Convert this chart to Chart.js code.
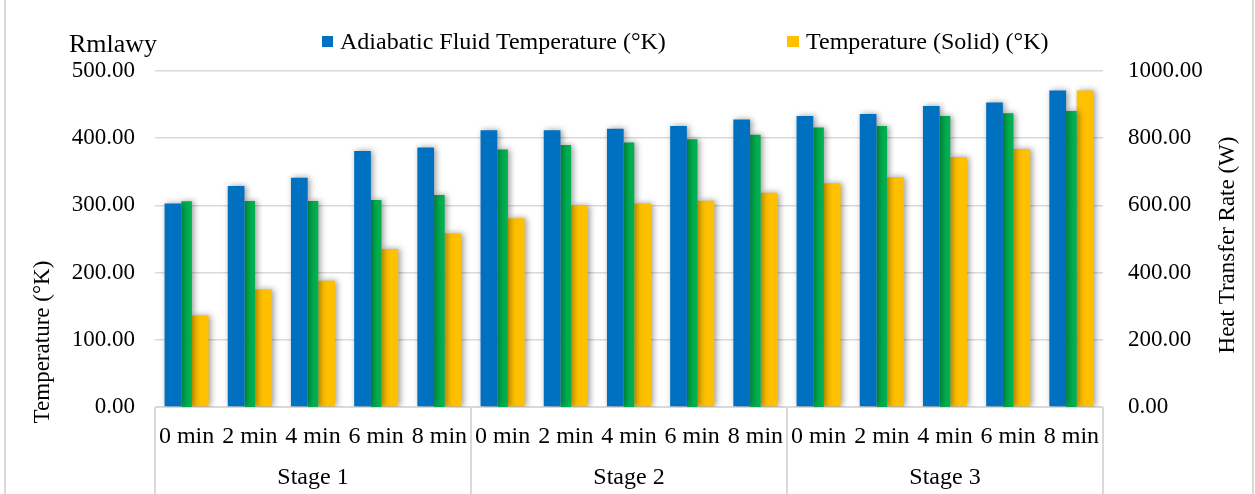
<!DOCTYPE html>
<html>
<head>
<meta charset="utf-8">
<script src="https://cdn.jsdelivr.net/npm/chart.js@4/dist/chart.umd.min.js"></script>
<style>
  html, body { margin: 0; padding: 0; background: #fff; }
  #wrap { width: 1255px; height: 494px; }
</style>
</head>
<body>
<div id="wrap"><canvas id="chart" width="1255" height="494"></canvas></div>
<script>
const categories = ["0 min", "2 min", "4 min", "6 min", "8 min",
                    "0 min", "2 min", "4 min", "6 min", "8 min",
                    "0 min", "2 min", "4 min", "6 min", "8 min"];
const stages = ["Stage 1", "Stage 2", "Stage 3"];

// left axis (°K)
const adiabaticTemp = [303, 329, 341, 381, 386, 412, 412, 414, 418, 428, 433, 436, 448, 453, 471];
const solidTemp = [136, 175, 188, 235, 258, 281, 300, 303, 307, 319, 333, 342, 372, 384, 471];
// right axis (W)
const heatRate = [612, 613, 613, 616, 631, 766, 780, 787, 797, 810, 832, 836, 866, 874, 881];

const FONT = '"Liberation Serif", "Times New Roman", serif';
const GRID = "#d9d9d9";

const decor = {
  id: "decor",
  beforeDatasetsDraw(chart) {
    const { ctx, chartArea } = chart;
    // category axis line
    ctx.save();
    ctx.strokeStyle = GRID;
    ctx.lineWidth = 2;
    ctx.beginPath();
    ctx.moveTo(chartArea.left, chartArea.bottom);
    ctx.lineTo(chartArea.right, chartArea.bottom);
    ctx.stroke();
    ctx.restore();
    // excel-like bar shadow
    ctx.save();
    ctx.shadowColor = "rgba(0,0,0,0.4)";
    ctx.shadowBlur = 6;
    ctx.shadowOffsetX = 2;
  },
  afterDatasetsDraw(chart) {
    chart.ctx.restore();
  },
  afterDraw(chart) {
    const { ctx, chartArea, scales } = chart;
    const n = categories.length;
    const per = n / stages.length;
    const w = (chartArea.right - chartArea.left) / n;

    ctx.save();
    ctx.strokeStyle = GRID;
    ctx.lineWidth = 2;
    ctx.beginPath();
    for (let s = 0; s <= stages.length; s++) {
      const px = chartArea.left + s * per * w;
      ctx.moveTo(px, chartArea.bottom);
      ctx.lineTo(px, chart.height);
    }
    // outer frame
    ctx.moveTo(5, 0); ctx.lineTo(5, chart.height);
    ctx.moveTo(1253, 0); ctx.lineTo(1253, chart.height);
    ctx.stroke();

    ctx.fillStyle = "#000";
    ctx.textAlign = "center";
    ctx.textBaseline = "middle";
    ctx.font = "24px " + FONT;
    categories.forEach((c, i) => {
      ctx.fillText(c, scales.x.getPixelForValue(i), 437);
    });
    stages.forEach((s, i) => {
      ctx.fillText(s, chartArea.left + (i + 0.5) * per * w, 478);
    });

    // axis titles
    ctx.font = "23px " + FONT;
    ctx.save();
    ctx.translate(43, 342);
    ctx.rotate(-Math.PI / 2);
    ctx.fillText("Temperature (°K)", 0, 0);
    ctx.restore();
    ctx.save();
    ctx.translate(1228, 245);
    ctx.rotate(-Math.PI / 2);
    ctx.fillText("Heat Transfer Rate (W)", 0, 0);
    ctx.restore();

    // legend
    ctx.textAlign = "left";
    ctx.textBaseline = "alphabetic";
    ctx.font = "26px " + FONT;
    ctx.fillText("Rmlawy", 69, 52);
    ctx.font = "24px " + FONT;
    ctx.fillStyle = "#0070C0";
    ctx.fillRect(322, 36, 11, 11);
    ctx.fillStyle = "#000";
    ctx.fillText("Adiabatic Fluid Temperature (°K)", 340, 49);
    ctx.fillStyle = "#FFC000";
    ctx.fillRect(787, 36, 12, 11);
    ctx.fillStyle = "#000";
    ctx.fillText("Temperature (Solid) (°K)", 806, 49);
    ctx.restore();
  }
};

const tickFont = { family: FONT, size: 23 };

new Chart(document.getElementById("chart"), {
  type: "bar",
  data: {
    labels: categories,
    datasets: [
      {
        label: "Adiabatic Fluid Temperature (°K)",
        data: adiabaticTemp,
        backgroundColor: "#0070C0",
        yAxisID: "y",
        barPercentage: 1.22,
        categoryPercentage: 0.65,
      },
      {
        label: "Heat Transfer Rate (W)",
        data: heatRate,
        backgroundColor: "#00B050",
        yAxisID: "y1",
        barPercentage: 0.77,
        categoryPercentage: 0.65,
      },
      {
        label: "Temperature (Solid) (°K)",
        data: solidTemp,
        backgroundColor: "#FFC000",
        yAxisID: "y",
        barPercentage: 1.22,
        categoryPercentage: 0.65,
      },
    ],
  },
  options: {
    responsive: false,
    animation: false,
    layout: { padding: { top: 71, bottom: 87, left: 0, right: 0 } },
    plugins: {
      legend: { display: false },
      title: { display: false },
      tooltip: { enabled: false },
    },
    scales: {
      x: { display: false },
      y: {
        position: "left",
        min: 0,
        max: 500,
        ticks: {
          stepSize: 100,
          padding: 20,
          color: "#000",
          font: tickFont,
          callback: (v) => v.toFixed(2),
        },
        grid: { color: GRID, lineWidth: 1.5, drawTicks: false },
        border: { display: false },
        afterFit: (s) => { s.width = 155; },
      },
      y1: {
        position: "right",
        min: 0,
        max: 1000,
        ticks: {
          stepSize: 200,
          padding: 17,
          color: "#000",
          font: tickFont,
          callback: (v) => v.toFixed(2),
        },
        grid: { display: false },
        border: { display: false },
        afterFit: (s) => { s.width = 152; },
      },
    },
  },
  plugins: [decor],
});
</script>
</body>
</html>
